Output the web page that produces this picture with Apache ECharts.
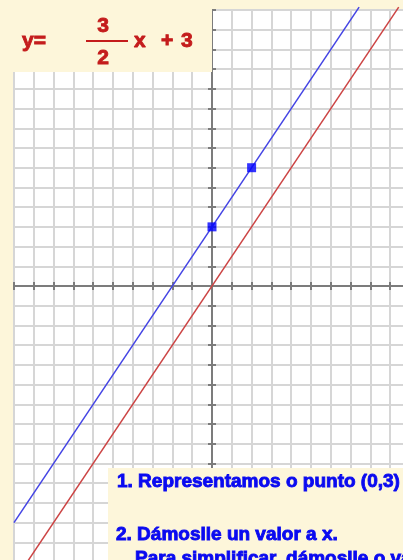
<!DOCTYPE html>
<html lang="gl">
<head>
    <meta charset="UTF-8">
    <title>y = 3/2 x + 3</title>
    <script src="https://cdn.jsdelivr.net/npm/echarts@6/dist/echarts.min.js"></script>
    <style>html, body { margin: 0; padding: 0; background: #fdf6da; }</style>
</head>
<body>
    <div id="echarts" style="width: 403px; height: 560px;"></div>
    <script>
        // eixos
        const xLimits = [-10, 10];
        const yLimits = [-14, 14];
        const blueLineX = [-10, 7.43];
        const blueLineY = [-12, 14.15];
        const redLineX = [-9.34, 9.43];
        const redLineY = [-14.01, 14.15];
        // puntos marcados
        const pointsX = [0, 2];
        const pointsY = [3, 6];
        const steps = ['1. Representamos o punto (0,3)', '2. Dámoslle un valor a x.', 'Para simplificar, dámoslle o valor 2'];

        const toPairs = (xs, ys) => xs.map((x, i) => [x, ys[i]]);

        const myChart = echarts.init(document.querySelector('#echarts'));

        const axisColor = '#7c7c7c';
        const gridColor = '#d6d6d6';

        function makeAxis(limits, position, first) {
            return {
                type: 'value',
                min: limits[0],
                max: limits[1],
                interval: 1,
                position: position,
                axisLine: { onZero: true, lineStyle: { color: axisColor, width: 2 } },
                axisTick: { show: true, length: 4, lineStyle: { color: axisColor, width: 2 } },
                axisLabel: { show: false },
                splitLine: { show: first, lineStyle: { color: gridColor, width: 2 } }
            };
        }

        const red = '#c41c1c';
        const blue = '#0a0af0';
        const beige = '#fdf6da';

        // texto da cabeceira e da caixa (trazo engadido para engrosar)
        function txt(x, y, text, size, color, align) {
            return {
                type: 'text', z: 11, x: x, y: y,
                style: {
                    text: text, fontSize: size, fontWeight: 'bold',
                    fontFamily: 'Arial, "Liberation Sans", sans-serif',
                    fill: color, stroke: color, lineWidth: 0.9,
                    align: align || 'left', verticalAlign: 'middle'
                }
            };
        }

        const option = {
            backgroundColor: beige,
            animation: false,
            grid: {
                left: 14, top: 10, width: 396, height: 552,
                outerBoundsMode: 'none',
                containLabel: false,
                show: true, backgroundColor: '#fff', borderWidth: 0
            },
            xAxis: [makeAxis(xLimits, 'bottom', true), makeAxis(xLimits, 'top', false)],
            yAxis: [makeAxis(yLimits, 'left', true), makeAxis(yLimits, 'right', false)],
            series: [
                {
                    type: 'line',
                    data: toPairs(redLineX, redLineY),
                    symbol: 'none',
                    clip: false,
                    lineStyle: { color: '#cc4444', width: 1.5 }
                },
                {
                    type: 'line',
                    data: toPairs(blueLineX, blueLineY),
                    symbol: 'none',
                    clip: false,
                    lineStyle: { color: '#4444e4', width: 1.5 }
                },
                {
                    type: 'scatter',
                    data: toPairs(pointsX, pointsY),
                    symbol: 'rect',
                    symbolSize: 9,
                    itemStyle: { color: '#0000ff' },
                    z: 5
                }
            ],
            graphic: [
                // cabeceira coa ecuación
                { type: 'rect', z: 10, shape: { x: 0, y: 0, width: 212, height: 72 }, style: { fill: beige } },
                txt(22, 41, 'y=', 21, red),
                txt(103, 26, '3', 21, red, 'center'),
                { type: 'line', z: 11, shape: { x1: 86, y1: 41, x2: 128, y2: 41 }, style: { stroke: red, lineWidth: 2 } },
                txt(103, 58, '2', 21, red, 'center'),
                txt(134, 41, 'x', 21, red),
                txt(161, 41, '+', 21, red),
                txt(181, 41, '3', 21, red),
                // caixa cos pasos
                { type: 'rect', z: 10, shape: { x: 108, y: 468, width: 300, height: 100 }, style: { fill: beige } },
                txt(117, 482, steps[0], 19, blue),
                txt(116, 535, steps[1], 19, blue),
                txt(135, 559, steps[2], 19, blue)
            ]
        };
        myChart.setOption(option);
    </script>
</body>
</html>
